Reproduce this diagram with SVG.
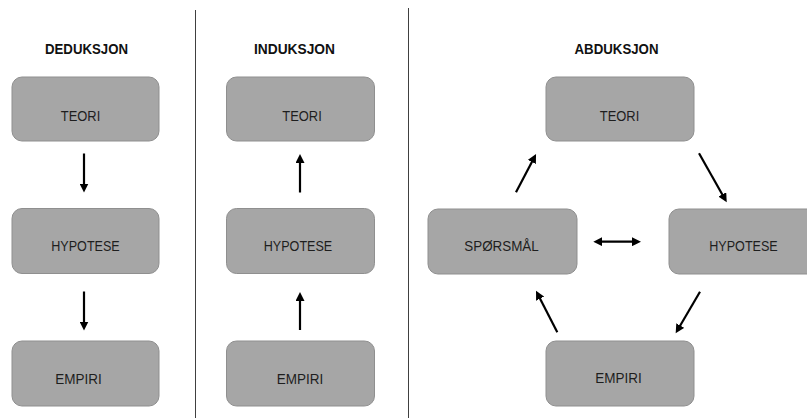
<svg xmlns="http://www.w3.org/2000/svg" width="807" height="418" viewBox="0 0 807 418">
<style>
.box{fill:#a6a6a6;stroke:#8f8f8f;stroke-width:1}
.lbl{font-family:"Liberation Sans",Arial,sans-serif;font-size:15.5px;fill:#1e1e1e;text-anchor:middle}
.ttl{font-family:"Liberation Sans",Arial,sans-serif;font-size:15px;font-weight:bold;fill:#111;text-anchor:middle}
.sep{stroke:#404040;stroke-width:1}
.arr{stroke:#000;stroke-width:2.2;fill:none;marker-end:url(#ah)}
</style>
<defs>
<marker id="ah" markerUnits="userSpaceOnUse" markerWidth="10" markerHeight="9" refX="2" refY="4.5" orient="auto-start-reverse" viewBox="0 0 10 9">
<path d="M0,0 L9,4.5 L0,9 z" fill="#000"/>
</marker>
</defs>
<rect width="807" height="418" fill="#fff"/>
<g id="separators">
<line class="sep" x1="195.5" y1="10" x2="195.5" y2="418"/>
<line class="sep" x1="408.5" y1="8" x2="408.5" y2="418"/>
</g>
<g id="titles">
<text class="ttl" x="86.5" y="53.5" textLength="83" lengthAdjust="spacingAndGlyphs">DEDUKSJON</text>
<text class="ttl" x="294.5" y="53.5" textLength="81" lengthAdjust="spacingAndGlyphs">INDUKSJON</text>
<text class="ttl" x="616.5" y="53.5" textLength="84" lengthAdjust="spacingAndGlyphs">ABDUKSJON</text>
</g>
<g id="ded-teori"><rect class="box" x="12" y="77" width="147" height="64" rx="10"/><text class="lbl" x="80.5" y="121" textLength="39.5" lengthAdjust="spacingAndGlyphs">TEORI</text></g>
<g id="ded-hypotese"><rect class="box" x="12" y="208.5" width="147" height="65" rx="10"/><text class="lbl" x="85.5" y="251" textLength="68.5" lengthAdjust="spacingAndGlyphs">HYPOTESE</text></g>
<g id="ded-empiri"><rect class="box" x="12" y="341" width="147" height="65" rx="10"/><text class="lbl" x="78.5" y="383.5" textLength="46.5" lengthAdjust="spacingAndGlyphs">EMPIRI</text></g>
<g id="ind-teori"><rect class="box" x="226.5" y="77" width="148" height="64" rx="10"/><text class="lbl" x="302" y="121" textLength="39.5" lengthAdjust="spacingAndGlyphs">TEORI</text></g>
<g id="ind-hypotese"><rect class="box" x="226.5" y="208.5" width="148" height="65" rx="10"/><text class="lbl" x="298" y="251" textLength="68.5" lengthAdjust="spacingAndGlyphs">HYPOTESE</text></g>
<g id="ind-empiri"><rect class="box" x="226.5" y="341" width="148" height="65" rx="10"/><text class="lbl" x="300" y="383.5" textLength="46.5" lengthAdjust="spacingAndGlyphs">EMPIRI</text></g>
<g id="abd-teori"><rect class="box" x="546" y="77" width="148" height="64" rx="10"/><text class="lbl" x="619.5" y="120.5" textLength="39.5" lengthAdjust="spacingAndGlyphs">TEORI</text></g>
<g id="abd-sporsmal"><rect class="box" x="428" y="209" width="149" height="65" rx="10"/><text class="lbl" x="501.5" y="251" textLength="74.5" lengthAdjust="spacingAndGlyphs">SPØRSMÅL</text></g>
<g id="abd-hypotese"><rect class="box" x="669" y="209" width="148" height="65" rx="10"/><text class="lbl" x="743.5" y="251" textLength="68.5" lengthAdjust="spacingAndGlyphs">HYPOTESE</text></g>
<g id="abd-empiri"><rect class="box" x="546" y="341" width="148" height="65" rx="10"/><text class="lbl" x="618.5" y="382.5" textLength="46.5" lengthAdjust="spacingAndGlyphs">EMPIRI</text></g>
<g id="connectors">
<line class="arr" x1="84" y1="153.5" x2="84" y2="185.5"/>
<line class="arr" x1="84" y1="291.5" x2="84" y2="323.5"/>
<line class="arr" x1="300" y1="192.5" x2="300" y2="161"/>
<line class="arr" x1="300" y1="330" x2="300" y2="299"/>
<line class="arr" x1="516" y1="192.3" x2="532.8" y2="160.2"/>
<line class="arr" x1="699" y1="153.3" x2="723.3" y2="196.2"/>
<line class="arr" x1="700" y1="291.7" x2="679.2" y2="327.3"/>
<line class="arr" x1="557.3" y1="332.3" x2="539.2" y2="296.9"/>
<line class="arr" x1="600.3" y1="241.7" x2="634" y2="241.7" style="marker-start:url(#ah)"/>
</g>
</svg>
